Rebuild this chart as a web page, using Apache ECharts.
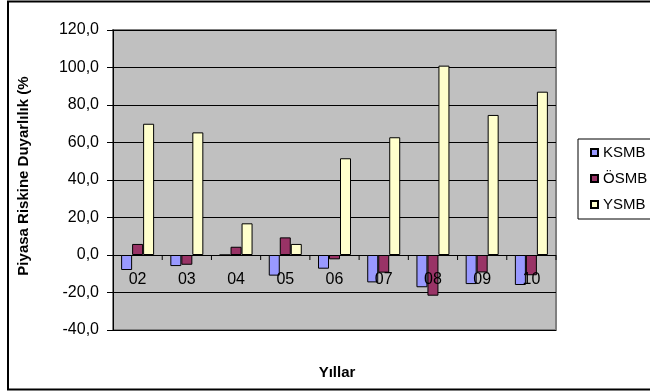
<!DOCTYPE html>
<html>
<head>
<meta charset="utf-8">
<script src="https://cdn.jsdelivr.net/npm/echarts@6/dist/echarts.min.js"></script>
<style>
  html, body { margin: 0; padding: 0; background: #fff; }
  #chart { width: 650px; height: 392px; }
</style>
</head>
<body>
<div id="chart"></div>
<script>
// Years on the category axis
const years = ['02', '03', '04', '05', '06', '07', '08', '09', '10'];
// Market risk sensitivity (%) per bank group
const ksmb = [-8.0, -5.9, 0.0, -11.0, -7.3, -14.6, -17.2, -15.5, -16.0];
const osmb = [5.9, -5.2, 4.4, 9.4, -2.3, -9.4, -21.7, -9.3, -10.8];
const ysmb = [70.0, 65.4, 16.9, 5.9, 51.6, 62.8, 101.0, 74.7, 87.1];
// Value axis range
const yMin = -40, yMax = 120, yStep = 20;

const font = 'Arial, "Liberation Sans", sans-serif';
const chart = echarts.init(document.getElementById('chart'), null, { renderer: 'canvas' });

function barSeries(name, data, color) {
  return {
    name: name,
    type: 'bar',
    data: data,
    barWidth: 11,
    barGap: '0%',
    itemStyle: { color: color, borderColor: '#000', borderWidth: 1 }
  };
}

// Year labels and boundary ticks sitting on the zero line
const zeroAxisLabels = {
  type: 'custom',
  name: 'axis',
  silent: true,
  z: 10,
  data: years.map(y => [y, 0]),
  encode: { x: 0, y: 1 },
  renderItem: function (params, api) {
    const p = api.coord([api.value(0), 0]);
    const w = api.size([1, 0])[0];
    return {
      type: 'group',
      children: [
        {
          type: 'line',
          shape: { x1: p[0] + w / 2, y1: p[1], x2: p[0] + w / 2, y2: p[1] + 5 },
          style: { stroke: '#000', lineWidth: 1 }
        },
        {
          type: 'text',
          x: p[0], y: p[1] + 25,
          style: {
            text: years[params.dataIndex],
            font: '16px ' + font, fill: '#000',
            textAlign: 'center', textVerticalAlign: 'middle'
          }
        }
      ]
    };
  }
};

chart.setOption({
  animation: false,
  backgroundColor: '#fff',
  textStyle: { fontFamily: font },
  grid: {
    left: 113, right: 94, top: 30, bottom: 62,
    show: true,
    backgroundColor: '#C0C0C0',
    borderColor: '#808080',
    borderWidth: 2
  },
  legend: {
    orient: 'vertical',
    left: 578, top: 139,
    padding: [6, 20, 7, 12],
    borderColor: '#000', borderWidth: 1,
    itemWidth: 7, itemHeight: 7, itemGap: 11,
    icon: 'rect',
    textStyle: { fontSize: 15, lineHeight: 15, color: '#000', fontFamily: font },
    data: ['KSMB', 'ÖSMB', 'YSMB']
  },
  xAxis: {
    type: 'category',
    data: years,
    axisLine: { show: false },
    axisTick: { show: false },
    axisLabel: { show: false },
    splitLine: { show: false }
  },
  yAxis: {
    type: 'value',
    min: yMin, max: yMax, interval: yStep,
    axisLine: { show: true, lineStyle: { color: '#000', width: 1 } },
    axisTick: { show: true, length: 6, lineStyle: { color: '#000' } },
    axisLabel: {
      color: '#000', fontSize: 16, margin: 14, fontFamily: font,
      formatter: v => v.toFixed(1).replace('.', ',')
    },
    splitLine: { show: true, lineStyle: { color: '#000', width: 1 } }
  },
  series: [
    barSeries('KSMB', ksmb, '#9999FF'),
    barSeries('ÖSMB', osmb, '#993366'),
    barSeries('YSMB', ysmb, '#FFFFCC'),
    zeroAxisLabels
  ],
  graphic: [
    {
      type: 'rect', silent: true, z: 100,
      shape: { x: 8, y: 1.5, width: 700, height: 388 },
      style: { fill: 'none', stroke: '#000', lineWidth: 2 }
    },
    {
      type: 'text', silent: true,
      x: 24, y: 176, rotation: Math.PI / 2,
      style: {
        text: 'Piyasa Riskine Duyarlılık (%',
        font: 'bold 15px ' + font, fill: '#000',
        textAlign: 'center', textVerticalAlign: 'middle'
      }
    },
    {
      type: 'text', silent: true,
      x: 337, y: 373,
      style: {
        text: 'Yıllar',
        font: 'bold 15px ' + font, fill: '#000',
        textAlign: 'center', textVerticalAlign: 'middle'
      }
    }
  ]
});
</script>
</body>
</html>
